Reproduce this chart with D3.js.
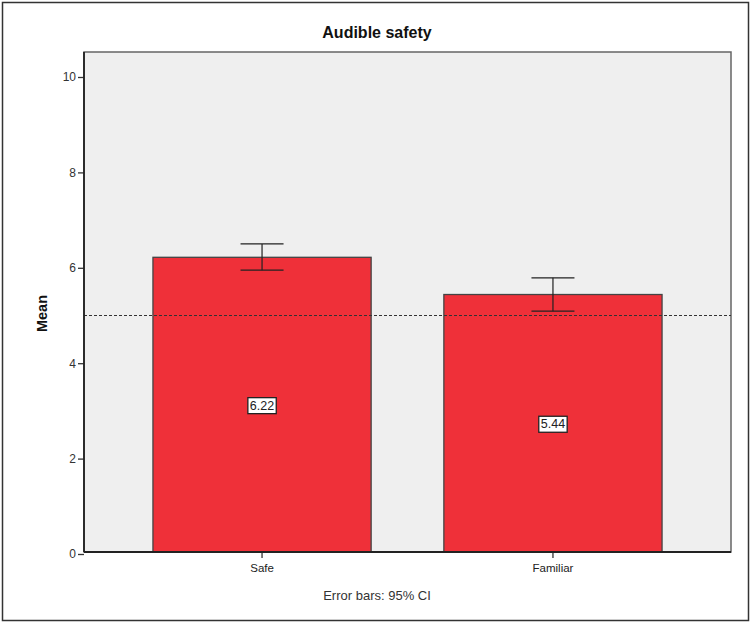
<!DOCTYPE html>
<html>
<head>
<meta charset="utf-8">
<script src="https://cdn.jsdelivr.net/npm/d3@7"></script>
<style>
  html, body { margin: 0; padding: 0; background: #fff; }
  svg { display: block; font-family: "Liberation Sans", Arial, sans-serif; }
</style>
</head>
<body>
<svg id="chart" width="751" height="623"></svg>
<script>
// ---- data ----
const categories = ["Safe", "Familiar"];
const means = [6.22, 5.44];
const ciLow = [5.95, 5.09];
const ciHigh = [6.50, 5.79];
const yTicks = [0, 2, 4, 6, 8, 10];
const referenceValue = 5;
const title = "Audible safety";
const yLabel = "Mean";
const footnote = "Error bars: 95% CI";

// ---- layout ----
const W = 751, H = 623;
const plot = { left: 84, right: 731, top: 52, bottom: 552 };

const svg = d3.select("#chart");

// outer frame
svg.append("rect")
  .attr("x", 2.5).attr("y", 2.5)
  .attr("width", W - 5).attr("height", H - 5)
  .attr("fill", "#fff").attr("stroke", "#333").attr("stroke-width", 1.5);

const x = d3.scaleBand()
  .domain(categories)
  .range([plot.left, plot.right])
  .paddingInner(0.25)
  .paddingOuter(0.237);

const y = d3.scaleLinear()
  .domain([0, 10])
  .range([554, 77]);

// plot background
svg.append("rect")
  .attr("x", plot.left).attr("y", plot.top)
  .attr("width", plot.right - plot.left).attr("height", plot.bottom - plot.top)
  .attr("fill", "#efefef").attr("stroke", "#666").attr("stroke-width", 1.5);

// bars
svg.append("g").selectAll("rect")
  .data(categories)
  .join("rect")
  .attr("x", d => x(d))
  .attr("y", (d, i) => y(means[i]))
  .attr("width", x.bandwidth())
  .attr("height", (d, i) => plot.bottom - y(means[i]))
  .attr("fill", "#ef3039")
  .attr("stroke", "#444")
  .attr("stroke-width", 1.3);

// reference dashed line
svg.append("line")
  .attr("x1", plot.left).attr("x2", plot.right)
  .attr("y1", y(referenceValue)).attr("y2", y(referenceValue))
  .attr("stroke", "#333").attr("stroke-width", 1)
  .attr("stroke-dasharray", "3,2");

// error bars
const capHalf = 21.5;
const eb = svg.append("g").attr("stroke", "#222").attr("stroke-width", 1.2);
categories.forEach((c, i) => {
  const cx = x(c) + x.bandwidth() / 2;
  eb.append("line").attr("x1", cx).attr("x2", cx)
    .attr("y1", y(ciHigh[i])).attr("y2", y(ciLow[i]));
  eb.append("line").attr("x1", cx - capHalf).attr("x2", cx + capHalf)
    .attr("y1", y(ciHigh[i])).attr("y2", y(ciHigh[i]));
  eb.append("line").attr("x1", cx - capHalf).attr("x2", cx + capHalf)
    .attr("y1", y(ciLow[i])).attr("y2", y(ciLow[i]));
});

// value labels in boxes
categories.forEach((c, i) => {
  const cx = x(c) + x.bandwidth() / 2;
  const cy = y(means[i] / 2);
  const g = svg.append("g");
  const t = g.append("text")
    .attr("x", cx).attr("y", cy)
    .attr("text-anchor", "middle").attr("dominant-baseline", "central")
    .attr("font-size", 12.5).attr("fill", "#222")
    .text(means[i].toFixed(2));
  const bb = t.node().getBBox();
  g.insert("rect", "text")
    .attr("x", bb.x - 2).attr("y", bb.y - 1)
    .attr("width", bb.width + 4).attr("height", bb.height + 2)
    .attr("fill", "#fff").attr("stroke", "#222").attr("stroke-width", 1.3);
});

// y axis
const yAxis = svg.append("g")
  .attr("transform", `translate(${plot.left},0)`)
  .call(d3.axisLeft(y).tickValues(yTicks).tickSize(6).tickPadding(2).tickFormat(d3.format("d")));
yAxis.select(".domain").remove();
yAxis.selectAll(".tick line").attr("stroke", "#333").attr("stroke-width", 1.3);
yAxis.selectAll(".tick text").attr("font-size", 12).attr("fill", "#333")
  .attr("font-family", "Liberation Sans, Arial, sans-serif");

// x axis
const xAxis = svg.append("g")
  .attr("transform", `translate(0,${plot.bottom})`)
  .call(d3.axisBottom(x).tickSize(6).tickPadding(6));
xAxis.select(".domain").remove();
xAxis.selectAll(".tick line").attr("stroke", "#333").attr("stroke-width", 1.3);
xAxis.selectAll(".tick text").attr("font-size", 11.5).attr("fill", "#222")
  .attr("font-family", "Liberation Sans, Arial, sans-serif");

// axis lines (left and bottom, darker)
svg.append("line")
  .attr("x1", plot.left).attr("x2", plot.left)
  .attr("y1", plot.top).attr("y2", plot.bottom)
  .attr("stroke", "#222").attr("stroke-width", 1.8);
svg.append("line")
  .attr("x1", plot.left).attr("x2", plot.right)
  .attr("y1", plot.bottom).attr("y2", plot.bottom)
  .attr("stroke", "#222").attr("stroke-width", 1.8);

// title
svg.append("text")
  .attr("x", 377).attr("y", 38)
  .attr("text-anchor", "middle")
  .attr("font-size", 16).attr("font-weight", "bold").attr("fill", "#111")
  .text(title);

// y label
svg.append("text")
  .attr("transform", `translate(47,${(y(0) + y(10)) / 2 - 2}) rotate(-90)`)
  .attr("text-anchor", "middle")
  .attr("font-size", 14.5).attr("font-weight", "bold").attr("fill", "#111")
  .text(yLabel);

// footnote
svg.append("text")
  .attr("x", 377).attr("y", 600)
  .attr("text-anchor", "middle")
  .attr("font-size", 13).attr("fill", "#333")
  .text(footnote);
</script>
</body>
</html>
